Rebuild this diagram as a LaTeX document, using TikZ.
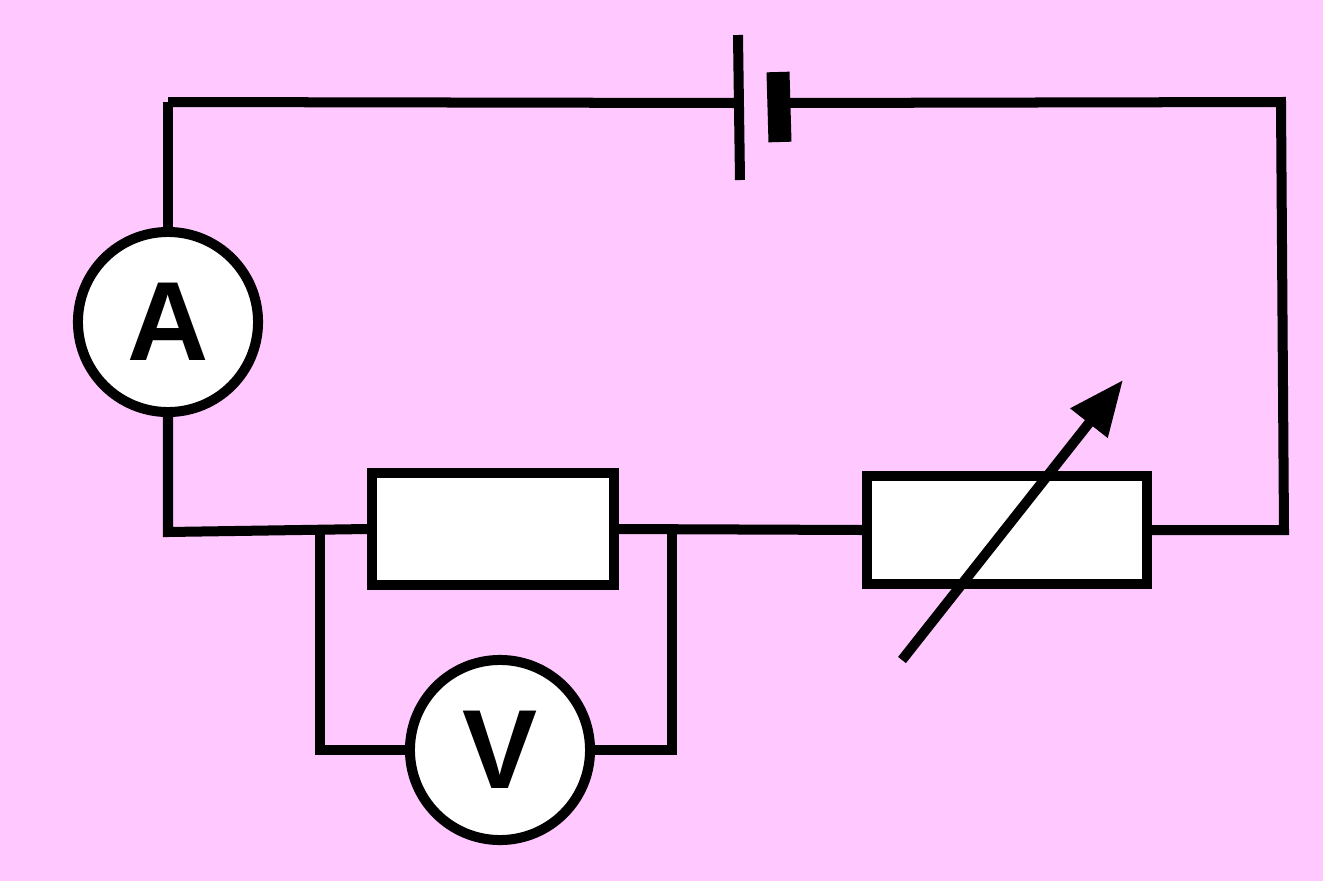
\documentclass[tikz,border=0pt]{standalone}
\usepackage{fontspec}
\setmainfont{Liberation Sans}
\usetikzlibrary{arrows.meta}
\definecolor{bg}{HTML}{FFC8FF}
\begin{document}
\begin{tikzpicture}[x=0.01cm,y=-0.01cm,line width=0.1cm,
  meter/.style={circle,draw,fill=white,minimum size=1.8cm,inner sep=0pt,font=\fontsize{32}{32}\selectfont\bfseries},
  res/.style={draw,fill=white,inner sep=0pt}]
\fill[bg] (0,0) rectangle (1323,881);
\useasboundingbox (0,0) rectangle (1323,881);
\node[meter] (A) at (168,322) {A};
\node[meter] (V) at (500,750) {V};
\coordinate (tl) at (168,102);
\coordinate (tr) at (1281,102);
\coordinate (br) at (1284,530);
\coordinate (bl) at (168,532);
\coordinate (p1) at (738,103);
\coordinate (p2) at (785,103);
\node[res,minimum width=2.41cm,minimum height=1.11cm] (R) at (493,529) {};
\node[res,minimum width=2.79cm,minimum height=1.07cm] (Rh) at (1007,530) {};
\coordinate (j1) at (320,531);
\coordinate (j2) at (672,530);
\coordinate (v1) at (320,750);
\coordinate (v2) at (672,750);
\draw (tl) -- (p1);
\draw (p2) -- (tr) -- (br) -- (Rh.east);
\draw (738,35) -- (740,180);
\draw[line width=0.23cm] (778,72) -- (780,142);
\draw (tl) -- (A.north);
\draw (A.south) -- (bl) -- (R.west);
\draw (R.east) -- (Rh.west);
\draw (j1) -- (v1) -- (V.west);
\draw (V.east) -- (v2) -- (j2);
\draw[-{Triangle[length=0.55cm,width=0.45cm]}] (902,660) -- (1123,380);
\end{tikzpicture}
\end{document}
